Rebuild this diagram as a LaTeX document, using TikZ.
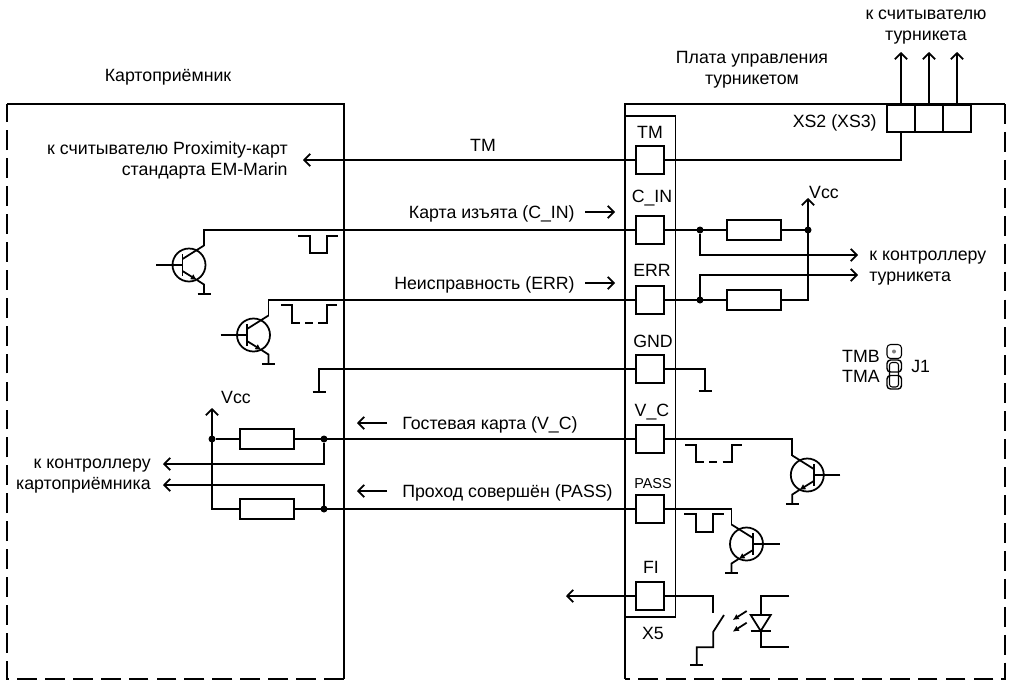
\documentclass[tikz,border=0pt]{standalone}
\usepackage{fontspec}
\setmainfont{Liberation Sans}
\usetikzlibrary{arrows.meta}
\tikzset{
	wire/.style={line width=1pt},
	arr/.style={wire,-{Straight Barb[length=3.4pt,width=7pt]}},
	pad/.style={draw,wire,minimum width=0.56cm,minimum height=0.55cm,inner sep=0pt,outer sep=0pt},
	res/.style={draw,wire,minimum width=1.08cm,minimum height=0.4cm,inner sep=0pt,outer sep=0pt},
	dot/.style={circle,fill,minimum size=0.14cm,inner sep=0pt,outer sep=0pt},
	lab/.style={inner sep=0pt,font=\fontsize{10.1}{11.9}\selectfont},
	border/.style={wire,dash pattern=on 11.3pt off 4.6pt},
	npn/.pic={
		\draw[wire] (0,0) circle (16.5);
		\draw[wire] (-33,0) -- (-6.5,0) (-6.5,-11) -- (-6.5,11);
		\draw[wire] (-6.5,-6) -- (15,-19.5);
		\draw[wire,-{Latex[length=3.5pt,width=3.5pt]}] (-6.5,6) -- (8,15);
		\draw[wire] (8,15) -- (15,19.5) -- (15,29);
		\draw[wire] (9,29) -- (21,29);
		\coordinate (-c) at (15,-19.5);
	},
	gndbar/.pic={
		\draw[wire] (-6.5,0) -- (6.5,0);
	},
}
\begin{document}
\begin{tikzpicture}[x=0.02cm,y=-0.02cm]
	\useasboundingbox (0,0) rectangle (1011,681);
	% boards
	\draw[wire] (7,104) -- (344,104) -- (344,679);
	\draw[border] (344,679) -- (7,679) -- (7,104);
	\draw[wire] (625,679) -- (625,104) -- (1005,104);
	\draw[border] (1005,104) -- (1005,679) -- (625,679);
	\draw[wire] (625,116) -- (675.5,116) -- (675.5,617) -- (625,617);
	\node[lab] (titlea) at (168,77) {Картоприёмник};
	\node[lab,align=center] (titleb) at (752,69.5) {Плата управления\\турникетом};
	\node[lab,align=center] (titlec) at (926,27) {к считывателю\\турникета};
	% X5 pads
	\node[pad] (padtm) at (650,160) {};
	\node[pad] (padin) at (650,230) {};
	\node[pad] (paderr) at (650,300) {};
	\node[pad] (padgnd) at (650,369) {};
	\node[pad] (padvc) at (650,439) {};
	\node[pad] (padpass) at (650,509) {};
	\node[pad] (padfi) at (650,596) {};
	\node[lab] (labtm) at (650,132) {TM};
	\node[lab] (labin) at (652,198) {C\_IN};
	\node[lab] (laberr) at (652,270) {ERR};
	\node[lab] (labgnd) at (653,341) {GND};
	\node[lab] (labvc) at (652,412) {V\_C};
	\node[lab,font=\fontsize{8.2}{10}\selectfont] (labpass) at (653,484) {PASS};
	\node[lab] (labfi) at (651,567) {FI};
	\node[lab] (labx) at (653,633) {X5};
	% XS2 socket
	\node[pad,minimum width=0.56cm] (xsa) at (901,118.5) {};
	\node[pad,minimum width=0.56cm] (xsb) at (929,118.5) {};
	\node[pad,minimum width=0.56cm] (xsc) at (957,118.5) {};
	\node[lab,anchor=east] (labxs) at (877,122.5) {XS2 (XS3)};
	\coordinate (outa) at (901,52);
	\coordinate (outb) at (929,52);
	\coordinate (outc) at (957,52);
	\draw[arr] (xsa.north) -- (outa);
	\draw[arr] (xsb.north) -- (outb);
	\draw[arr] (xsc.north) -- (outc);
	% TM line
	\coordinate (tmend) at (303,160);
	\draw[wire] (padtm.east) -| (xsa.south);
	\draw[arr] (padtm.west) -- (tmend);
	\node[lab] (labtmline) at (483,145) {TM};
	\node[lab,anchor=east,align=right] (labreader) at (288,160.5) {к считывателю Proximity-карт\\стандарта EM-Marin};
	% pull-ups on the turnstile board
	\node[res] (resa) at (754,230) {};
	\node[res] (resb) at (754,300) {};
	\node[dot] (dota) at (700,230) {};
	\node[dot] (dotb) at (700,300) {};
	\node[dot] (dotvcc) at (808,230) {};
	\coordinate (vcca) at (808,198);
	\coordinate (enda) at (858,255);
	\coordinate (endb) at (858,275);
	\draw[wire] (padin.east) -- (resa.west) (resa.east) -- (dotvcc);
	\draw[wire] (paderr.east) -- (resb.west);
	\draw[arr] (resb.east) -| (vcca);
	\draw[arr] (dota) |- (enda);
	\draw[arr] (dotb) |- (endb);
	\node[lab] (labvcca) at (824,192) {Vcc};
	\node[lab,anchor=west,align=left] (labctra) at (869,268.5) {к контроллеру\\турникета};
	% card reader outputs
	\pic (qin) at (189,265) {npn};
	\pic (qerr) at (253.5,335) {npn};
	\pic at (204,294) {gndbar};
	\pic at (268.5,364) {gndbar};
	\draw[wire] (padin.west) -| (qin-c);
	\draw[wire] (paderr.west) -| (qerr-c);
	\draw[wire] (298,235.7) -- (310,235.7) -- (310,252.7) -- (327,252.7) -- (327,235.7) -- (338,235.7);
	\draw[wire] (281,305.3) -- (291.7,305.3) -- (291.7,322.7) -- (300,322.7) (305,322.7) -- (313,322.7) (318,322.7) -- (326.7,322.7) -- (326.7,305.3) -- (337,305.3);
	\node[lab,anchor=east] (labinline) at (575,214) {Карта изъята (C\_IN)};
	\node[lab,anchor=east] (laberrline) at (575,284.5) {Неисправность (ERR)};
	\draw[arr] (585,212) -- (615,212);
	\draw[arr] (585,283) -- (615,283);
	% ground
	\coordinate (gndl) at (319,392);
	\coordinate (gndr) at (705,391);
	\draw[wire] (padgnd.west) -| (gndl);
	\draw[wire] (padgnd.east) -| (gndr);
	\pic at (319,392) {gndbar};
	\pic at (705,391) {gndbar};
	% pull-ups on the card reader
	\node[res] (resc) at (267,439) {};
	\node[res] (resd) at (267,509) {};
	\node[dot] (dotc) at (212,439) {};
	\node[dot] (dotd) at (324,439) {};
	\node[dot] (dote) at (324,509) {};
	\coordinate (vccb) at (212,408);
	\coordinate (endc) at (163,464);
	\coordinate (endd) at (163,485);
	\draw[wire] (padvc.west) -- (resc.east) (resc.west) -- (dotc);
	\draw[wire] (padpass.west) -- (resd.east);
	\draw[arr] (resd.west) -| (vccb);
	\draw[arr] (dotd) |- (endc);
	\draw[arr] (dote) |- (endd);
	\node[lab] (labvccb) at (236,397.5) {Vcc};
	\node[lab,anchor=east,align=right] (labctrb) at (151,476.5) {к контроллеру\\картоприёмника};
	\node[lab,anchor=west] (labvcline) at (402,424.5) {Гостевая карта (V\_C)};
	\node[lab,anchor=west] (labpassline) at (402,492.5) {Проход совершён (PASS)};
	\draw[arr] (387,423) -- (357,423);
	\draw[arr] (387,491) -- (357,491);
	% turnstile board inputs
	\pic[xscale=-1] (qvc) at (807.3,475) {npn};
	\pic[xscale=-1] (qpass) at (746.5,544) {npn};
	\pic at (792.3,504) {gndbar};
	\pic at (731.5,573) {gndbar};
	\draw[wire] (padvc.east) -| (qvc-c);
	\draw[wire] (padpass.east) -| (qpass-c);
	\draw[wire] (685,445) -- (695.7,445) -- (695.7,462) -- (704,462) (709.3,462) -- (717.3,462) (722.7,462) -- (731.7,462) -- (731.7,445) -- (741.7,445);
	\draw[wire] (684.3,514.3) -- (695.7,514.3) -- (695.7,531.7) -- (713.3,531.7) -- (713.3,514.3) -- (724,514.3);
	% optocoupler on FI
	\coordinate (fiend) at (566,596);
	\draw[arr] (padfi.west) -- (fiend);
	\draw[wire] (padfi.east) -- (713.3,596) -- (713.3,613.3);
	\draw[wire] (724,615) -- (713.3,631.7) -- (713.3,647.3) -- (696.7,647.3) -- (696.7,665);
	\pic at (696.7,665) {gndbar};
	\draw[wire] (789.3,596) -- (760.7,596) -- (760.7,615);
	\draw[wire] (750.7,615) -- (770.7,615) -- (760.7,631) -- cycle;
	\draw[wire] (750.7,631) -- (770.7,631) (760.7,631) -- (760.7,647.3) -- (789.3,647.3);
	\draw[wire,-{Latex[length=3.5pt,width=3.5pt]}] (746.7,611) -- (732.7,620);
	\draw[wire,-{Latex[length=3.5pt,width=3.5pt]}] (746.7,622.7) -- (732.7,631.7);
	% jumper J1
	\draw[line width=0.6pt,rounded corners=2pt] (887,344.5) rectangle (901.5,358.5);
	\draw[line width=0.8pt,rounded corners=2pt] (887,360) rectangle (901.5,372);
	\draw[line width=0.8pt,rounded corners=2pt] (887,375.5) rectangle (901.5,389);
	\draw[line width=0.6pt,rounded corners=1.5pt] (889.5,362.5) rectangle (898.5,387);
	\fill[gray] (894,351.5) circle (2);
	\node[lab,anchor=east] (labtmb) at (880,356.5) {TMB};
	\node[lab,anchor=east] (labtma) at (880,376.5) {TMA};
	\node[lab,anchor=west] (labj) at (911,366.5) {J1};
\end{tikzpicture}
\end{document}
